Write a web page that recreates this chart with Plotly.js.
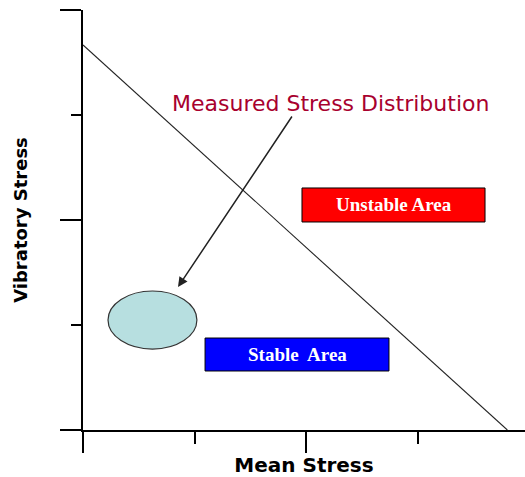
<!DOCTYPE html>
<html>
<head>
<meta charset="utf-8">
<script src="https://cdn.plot.ly/plotly-3.0.1.min.js"></script>
<style>
  html, body { margin: 0; padding: 0; background: #ffffff; }
  #chart { width: 525px; height: 477px; }
</style>
</head>
<body>
<div id="chart"></div>
<script>
// Limit line (stable/unstable boundary)
const limitX = [0, 3.8];
const limitY = [3.667, 0];

// Measured stress distribution ellipse (bounds)
const ellipseX = [0.224, 1.02];
const ellipseY = [0.771, 1.324];

// Arrow: tail and head
const arrowTail = [1.88, 3.0];
const arrowHead = [0.851, 1.362];

// Labels
const distLabel = "Measured Stress Distribution";
const distLabelPos = [2.217, 3.114];

const unstableLabel = "Unstable Area";
const unstableBoxX = [1.961, 3.6];
const unstableBoxY = [1.981, 2.305];

const stableLabel = "Stable Area";
const stableBoxX = [1.093, 2.74];
const stableBoxY = [0.562, 0.876];

const xTitle = "Mean Stress";
const yTitle = "Vibratory Stress";

const traces = [{
  type: "scatter",
  mode: "lines",
  x: limitX,
  y: limitY,
  line: { color: "#222222", width: 1.1 },
  hoverinfo: "skip",
  showlegend: false
}];

const layout = {
  width: 525,
  height: 477,
  margin: { l: 83, r: 0, t: 10, b: 47 },
  paper_bgcolor: "#ffffff",
  plot_bgcolor: "#ffffff",
  showlegend: false,
  xaxis: {
    range: [0, 3.958],
    showgrid: false,
    zeroline: false,
    showline: true,
    linecolor: "#000000",
    linewidth: 2,
    ticks: "outside",
    tickmode: "linear",
    tick0: 0,
    dtick: 2,
    ticklen: 21,
    tickwidth: 2,
    tickcolor: "#000000",
    showticklabels: false,
    minor: { ticks: "outside", dtick: 1, tick0: 0, ticklen: 12, tickwidth: 2, tickcolor: "#000000", showgrid: false },
    title: { text: xTitle, font: { family: "DejaVu Sans", size: 20, color: "#000000", weight: "bold" }, standoff: 12 },
    fixedrange: true
  },
  yaxis: {
    range: [0, 4],
    showgrid: false,
    zeroline: false,
    showline: true,
    linecolor: "#000000",
    linewidth: 2,
    ticks: "outside",
    tickmode: "linear",
    tick0: 0,
    dtick: 2,
    ticklen: 21,
    tickwidth: 2,
    tickcolor: "#000000",
    showticklabels: false,
    minor: { ticks: "outside", dtick: 1, tick0: 0, ticklen: 10, tickwidth: 2, tickcolor: "#000000", showgrid: false },
    title: { text: yTitle, font: { family: "DejaVu Sans", size: 18, color: "#000000", weight: "bold" }, standoff: 28 },
    fixedrange: true
  },
  shapes: [
    {
      type: "circle", xref: "x", yref: "y",
      x0: ellipseX[0], x1: ellipseX[1], y0: ellipseY[0], y1: ellipseY[1],
      fillcolor: "#b7dfe0",
      line: { color: "#333333", width: 1.2 }
    },
    {
      type: "rect", xref: "x", yref: "y",
      x0: unstableBoxX[0], x1: unstableBoxX[1], y0: unstableBoxY[0], y1: unstableBoxY[1],
      fillcolor: "#ff0000",
      line: { color: "#000000", width: 1 }
    },
    {
      type: "rect", xref: "x", yref: "y",
      x0: stableBoxX[0], x1: stableBoxX[1], y0: stableBoxY[0], y1: stableBoxY[1],
      fillcolor: "#0000ff",
      line: { color: "#000000", width: 1 }
    }
  ],
  annotations: [
    {
      x: arrowHead[0], y: arrowHead[1], xref: "x", yref: "y",
      ax: arrowTail[0], ay: arrowTail[1], axref: "x", ayref: "y",
      text: "", showarrow: true,
      arrowhead: 2, arrowsize: 1.3, arrowwidth: 1.5, arrowcolor: "#222222"
    },
    {
      x: distLabelPos[0], y: distLabelPos[1], xref: "x", yref: "y",
      text: distLabel, showarrow: false,
      font: { family: "DejaVu Sans", size: 22, color: "#a8002e" }
    },
    {
      x: (unstableBoxX[0] + unstableBoxX[1]) / 2, y: (unstableBoxY[0] + unstableBoxY[1]) / 2,
      xref: "x", yref: "y",
      text: unstableLabel, showarrow: false,
      font: { family: "Liberation Serif", size: 19, color: "#ffffff", weight: "bold" }
    },
    {
      x: (stableBoxX[0] + stableBoxX[1]) / 2, y: (stableBoxY[0] + stableBoxY[1]) / 2,
      xref: "x", yref: "y",
      text: stableLabel.replace(" ", "\u00a0 "), showarrow: false,
      font: { family: "Liberation Serif", size: 19, color: "#ffffff", weight: "bold" }
    }
  ]
};

Plotly.newPlot("chart", traces, layout, { displayModeBar: false, staticPlot: true });
</script>
</body>
</html>
